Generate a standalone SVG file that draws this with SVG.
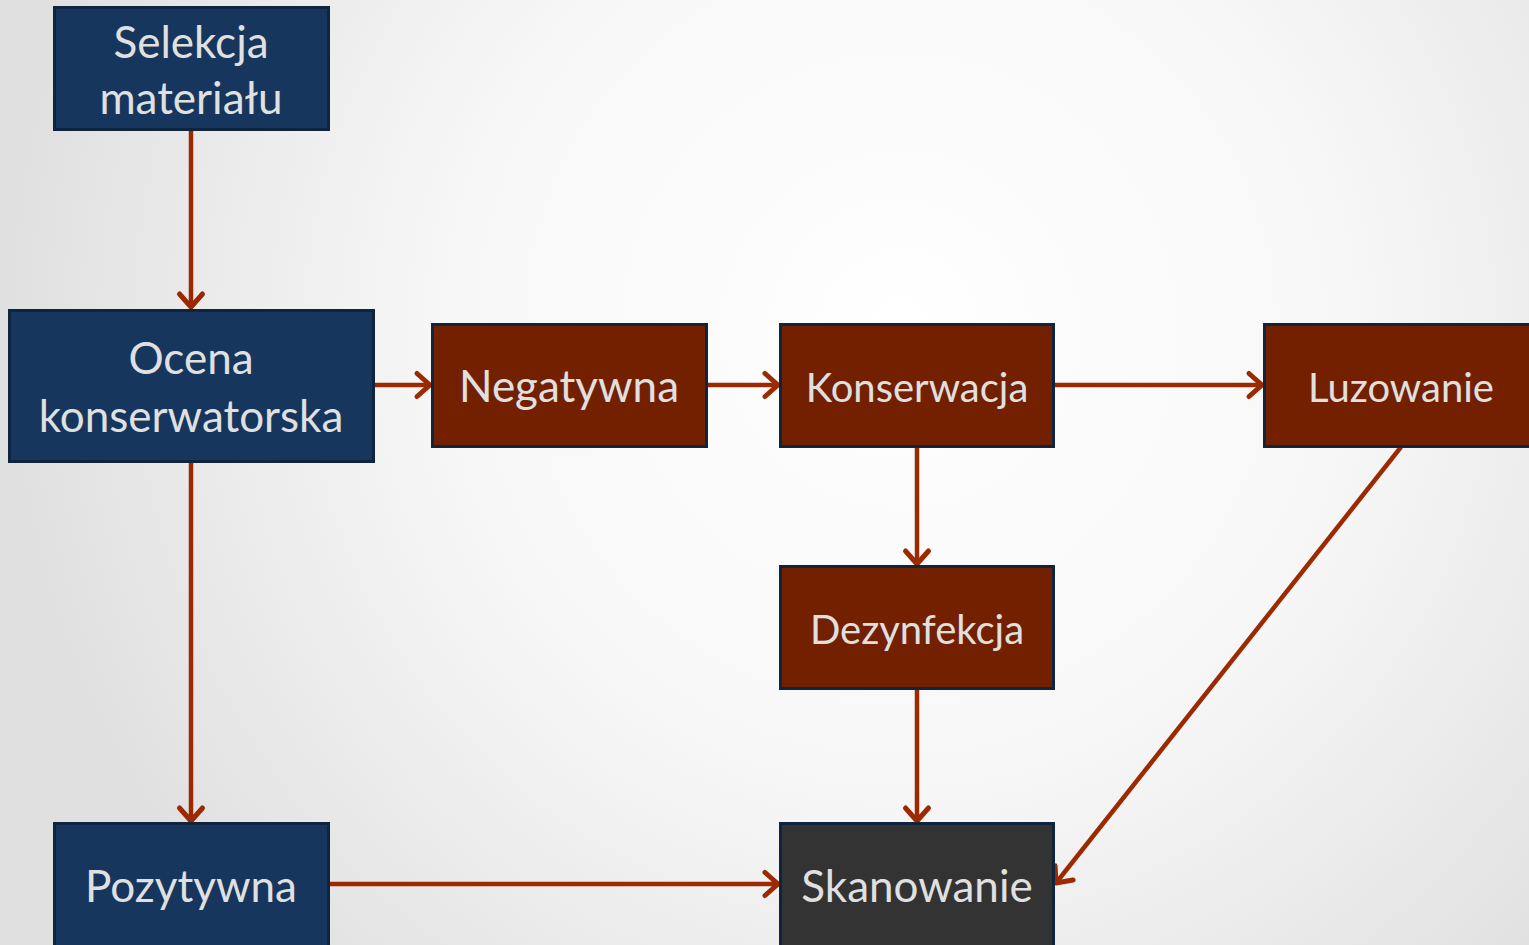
<svg xmlns="http://www.w3.org/2000/svg" width="1529" height="945" viewBox="0 0 1529 945">
<defs>
<radialGradient id="bg" cx="900" cy="330" r="900" gradientUnits="userSpaceOnUse">
<stop offset="0" stop-color="#FFFFFF"/>
<stop offset="0.5" stop-color="#F7F7F7"/>
<stop offset="1" stop-color="#E0E0E0"/>
</radialGradient>
<marker id="ah" markerUnits="userSpaceOnUse" markerWidth="32" markerHeight="32" viewBox="-17 -16 21 32" refX="0" refY="0" orient="auto">
<path d="M-13,-11.5 L0,0 L-13,11.5" fill="none" stroke="#9C2A00" stroke-width="5" stroke-linecap="round" stroke-linejoin="round"/>
</marker>
<style>
.b{fill:#17365D;stroke:#0F243E;stroke-width:3}
.r{fill:#732000;stroke:#0F243E;stroke-width:3}
.g{fill:#333333;stroke:#0F243E;stroke-width:3}
text{font-family:Lato,"Open Sans","Liberation Sans",sans-serif;fill:#E0E0E0;font-size:44px;text-anchor:middle}
.s{font-size:40px}
.c{fill:none;stroke:#9C2A00;stroke-width:4.5;marker-end:url(#ah)}
</style>
</defs>
<rect width="1529" height="945" fill="url(#bg)"/>
<g id="connectors">
<line class="c" x1="191" y1="131" x2="191" y2="307"/>
<line class="c" x1="375" y1="385" x2="430" y2="385"/>
<line class="c" x1="708" y1="385" x2="778" y2="385"/>
<line class="c" x1="1055" y1="385" x2="1262" y2="385"/>
<line class="c" x1="917" y1="448" x2="917" y2="564"/>
<line class="c" x1="917" y1="690" x2="917" y2="821"/>
<line class="c" x1="191" y1="463" x2="191" y2="821"/>
<line class="c" x1="330" y1="884" x2="778" y2="884"/>
<line class="c" x1="1401" y1="447" x2="1056" y2="883"/>
</g>
<g id="selekcja"><rect class="b" x="54.5" y="7.5" width="274" height="122"/><text x="191" y="58">Selekcja</text><text x="191" y="114">materiału</text></g>
<g id="ocena"><rect class="b" x="9.5" y="310.5" width="364" height="151"/><text x="191" y="374">Ocena</text><text x="191" y="432">konserwatorska</text></g>
<g id="negatywna"><rect class="r" x="432.5" y="324.5" width="274" height="122"/><text x="569" y="402">Negatywna</text></g>
<g id="konserwacja"><rect class="r" x="780.5" y="324.5" width="273" height="122"/><text class="s" x="917" y="402">Konserwacja</text></g>
<g id="luzowanie"><rect class="r" x="1264.5" y="324.5" width="270" height="122"/><text class="s" x="1401" y="402">Luzowanie</text></g>
<g id="dezynfekcja"><rect class="r" x="780.5" y="566.5" width="273" height="122"/><text class="s" x="917" y="644">Dezynfekcja</text></g>
<g id="pozytywna"><rect class="b" x="54.5" y="823.5" width="274" height="130"/><text x="191" y="902">Pozytywna</text></g>
<g id="skanowanie"><rect class="g" x="780.5" y="823.5" width="273" height="130"/><text x="917" y="902">Skanowanie</text></g>
</svg>
